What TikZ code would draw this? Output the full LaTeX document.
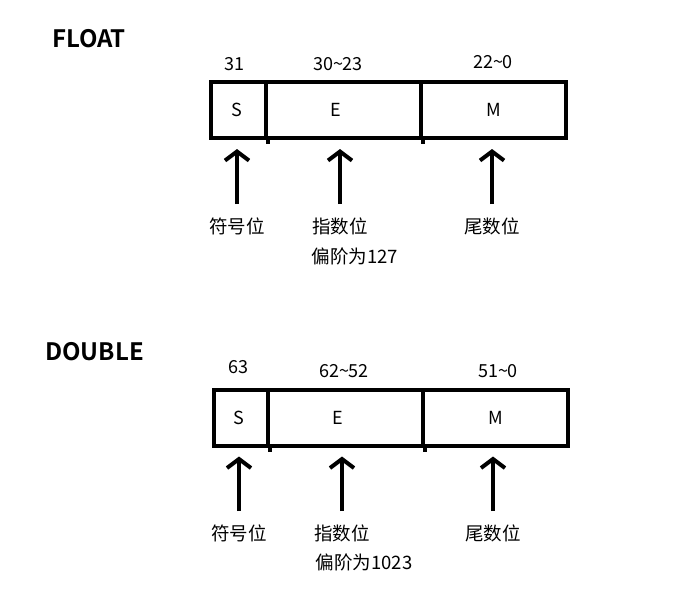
\documentclass[tikz,border=0pt]{standalone}
\usepackage{fontspec}
\setmainfont{Noto Sans CJK SC}[BoldFont=* Bold]
\usetikzlibrary{arrows.meta}
\tikzset{
	field/.style={draw,line width=4pt,minimum height=56pt,inner sep=0pt,font=\fontsize{18}{20}\selectfont},
	bitno/.style={inner sep=0pt,font=\fontsize{18}{20}\selectfont},
	lbl/.style={inner sep=0pt,font=\fontsize{18.5}{20}\selectfont},
	ttl/.style={inner sep=0pt,font=\fontsize{24}{26}\selectfont\bfseries},
	up/.style={line width=4pt,-{Straight Barb[length=9pt,width=24pt]},shorten <=13pt,shorten >=9pt}
}
% #1: label node, #2: field node
\newcommand{\ptr}[2]{\draw[up] (#1.north) -- (#1.north |- #2.south);}

\begin{document}
\begin{tikzpicture}[x=1pt,y=-1pt]
	\useasboundingbox (0,0) rectangle (685,592);

	% FLOAT
	\node[ttl] (tF) at (89,39) {FLOAT};
	\node[field,minimum width=55pt] (fS1) at (238.5,110) {\hspace*{-3pt}S};
	\node[field,minimum width=155pt] (fE1) at (343.5,110) {\hspace*{-15pt}E};
	\node[field,minimum width=145pt] (fM1) at (493.5,110) {M};
	\draw[line width=4pt] (fS1.south east) -- ++(0,4);
	\draw[line width=4pt] (fE1.south east) -- ++(0,4);

	% Bit numbers
	\node[bitno] (bS1) at (234,64) {31};
	\node[bitno] (bE1) at (338,64) {30\textasciitilde23};
	\node[bitno] (bM1) at (493,62) {22\textasciitilde0};

	% Labels and arrows
	\node[lbl] (lS1) at (237,226) {符号位};
	\node[lbl] (lE1) at (340,226) {指数位};
	\node[lbl] (lM1) at (492,226) {尾数位};
	\node[lbl] (bias1) at (355,256) {偏阶为127};
	\ptr{lS1}{fS1}
	\ptr{lE1}{fE1}
	\ptr{lM1}{fM1}

	% DOUBLE
	\node[ttl] (tD) at (94.5,352) {DOUBLE};
	\node[field,minimum width=54pt] (fS2) at (240.5,417.5) {\hspace*{-4pt}S};
	\node[field,minimum width=155pt] (fE2) at (345.5,417.5) {\hspace*{-15pt}E};
	\node[field,minimum width=145pt] (fM2) at (495.5,417.5) {M};
	\draw[line width=4pt] (fS2.south east) -- ++(0,4);
	\draw[line width=4pt] (fE2.south east) -- ++(0,4);

	% Bit numbers
	\node[bitno] (bS2) at (238,367) {63};
	\node[bitno] (bE2) at (344,371) {62\textasciitilde52};
	\node[bitno] (bM2) at (498,371) {51\textasciitilde0};

	% Labels and arrows
	\node[lbl] (lS2) at (239,533) {符号位};
	\node[lbl] (lE2) at (342,533) {指数位};
	\node[lbl] (lM2) at (493,533) {尾数位};
	\node[lbl] (bias2) at (364,562) {偏阶为1023};
	\ptr{lS2}{fS2}
	\ptr{lE2}{fE2}
	\ptr{lM2}{fM2}
\end{tikzpicture}
\end{document}
